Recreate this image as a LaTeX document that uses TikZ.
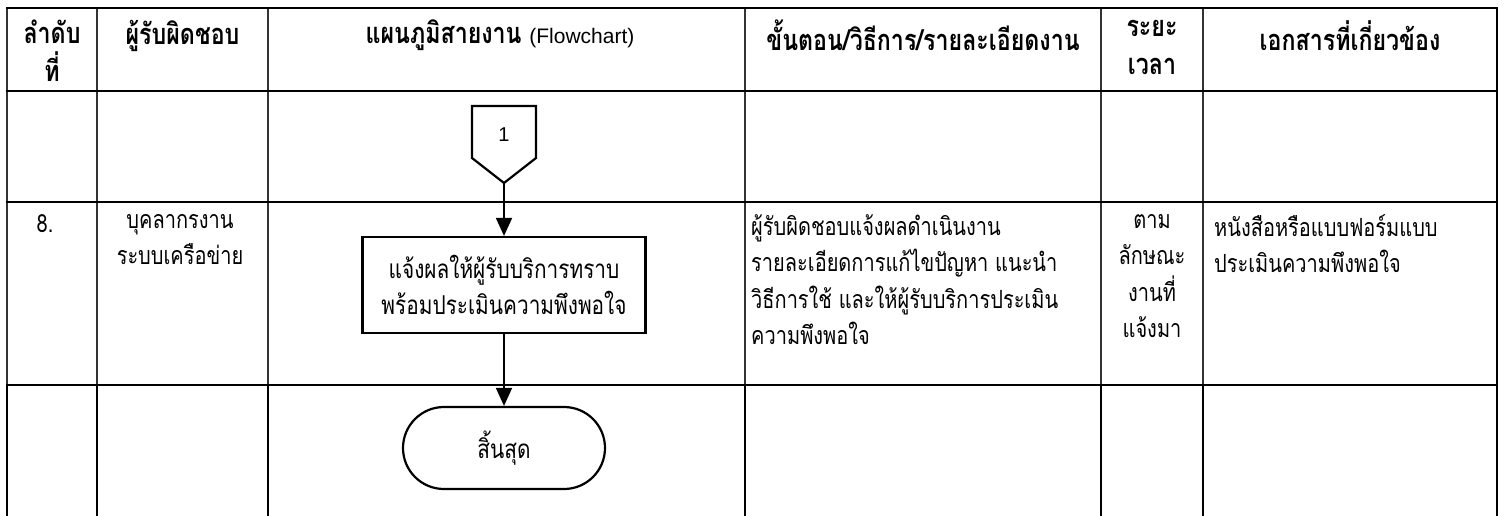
\documentclass[tikz,border=0pt]{standalone}
\usepackage{fontspec}
\setmainfont[Script=Thai,FakeStretch=0.8]{Loma}
\newfontfamily\latinfont{Liberation Sans}
\usetikzlibrary{arrows.meta,shapes.misc}
\begin{document}
\begin{tikzpicture}[x=1pt,y=-1pt,
  rule/.style={line width=2.5pt,line cap=rect},
  colrule/.style={line width=1.1pt,draw=black!80},
  colruleb/.style={line width=2pt},
  head/.style={anchor=north,align=center,font=\fontsize{29}{38}\selectfont\bfseries,inner sep=0pt},
  cell/.style={anchor=north,align=center,font=\fontsize{25}{36.5}\selectfont,inner sep=0pt},
  cellL/.style={anchor=north west,align=left,font=\fontsize{25}{36.5}\selectfont,inner sep=0pt},
  proc/.style={draw,line width=2.2pt,minimum width=283pt,minimum height=96pt,align=center,font=\fontsize{26}{36}\selectfont,inner sep=0pt},
  term/.style={draw,line width=2.2pt,rounded rectangle,minimum width=202pt,minimum height=82pt,font=\fontsize{26}{36}\selectfont,inner sep=0pt},
  flow/.style={line width=1.8pt,-{Triangle[length=18pt,width=16pt]}}
]
\useasboundingbox (0,0) rectangle (1506,516);
% column rules
\foreach \x in {7,97,268,745,1101,1203} {
  \draw[colrule] (\x,8) -- (\x,385);
  \draw[colruleb] (\x,385) -- (\x,516);
}
\draw[line width=2.5pt] (1497,8) -- (1497,516);
% row rules
\foreach \y in {8,91,202,385} \draw[rule] (7,\y) -- (1497,\y);
% header
\node[head] (h1) at (52,20) {ลำดับ\\ที่};
\node[head] (h2) at (182.5,20) {ผู้รับผิดชอบ};
\node[head] (h3) at (500,20) {แผนภูมิสายงาน {\mdseries\latinfont\fontsize{21}{28}\selectfont (Flowchart)}};
\node[head] (h4) at (923,20) {ขั้นตอน/วิธีการ/รายละเอียดงาน};
\node[head] (h5) at (1152,20) {ระยะ\\เวลา};
\node[head] (h6) at (1350,20) {เอกสารที่เกี่ยวข้อง};
% row 2 text
\node[cell] (n8) at (45,214) {8.};
\node[cell] (resp) at (180,214) {บุคลากรงาน\\ระบบเครือข่าย};
\node[cellL] (detail) at (751,214) {ผู้รับผิดชอบแจ้งผลดำเนินงาน\\รายละเอียดการแก้ไขปัญหา แนะนำ\\วิธีการใช้ และให้ผู้รับบริการประเมิน\\ความพึงพอใจ};
\node[cell] (time) at (1152,214) {ตาม\\ลักษณะ\\งานที่\\แจ้งมา};
\node[cellL] (docs) at (1214,214) {หนังสือหรือแบบฟอร์มแบบ\\ประเมินความพึงพอใจ};
% flowchart
\draw[line width=2.2pt,line join=miter] (472,106) -- (536,106) -- (536,158) -- (504,183) -- (472,158) -- cycle;
\node[font=\latinfont\fontsize{20}{24}\selectfont] (c1) at (504,135) {1};
\coordinate (c1tip) at (504,183);
\node[proc] (p1) at (504,285) {แจ้งผลให้ผู้รับบริการทราบ\\พร้อมประเมินความพึงพอใจ};
\node[term] (t1) at (504,448) {สิ้นสุด};
\draw[flow] (c1tip) -- (p1.north);
\draw[flow] (p1.south) -- (t1.north);
\end{tikzpicture}
\end{document}
